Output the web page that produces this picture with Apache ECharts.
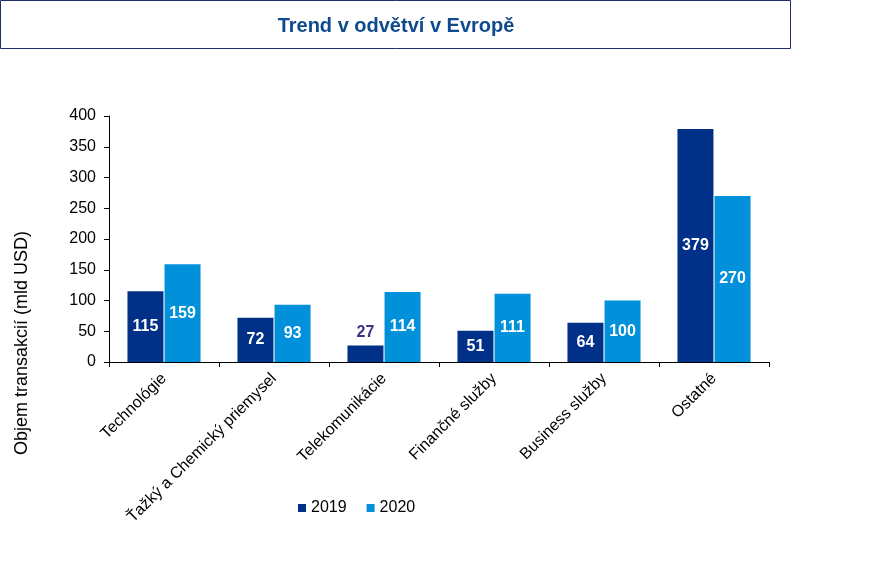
<!DOCTYPE html>
<html><head><meta charset="utf-8">
<script src="https://cdn.jsdelivr.net/npm/echarts@6/dist/echarts.min.js"></script>
<style>html,body{margin:0;padding:0;background:#fff}#c{width:874px;height:577px}</style>
</head><body><div id="c"></div>
<script>
const categories = ['Technológie','Ťažký a Chemický priemysel','Telekomunikácie','Finančné služby','Business služby','Ostatné'];
const values2019 = [115, 72, 27, 51, 64, 379];
const values2020 = [159, 93, 114, 111, 100, 270];
const yTicks = [0, 50, 100, 150, 200, 250, 300, 350, 400];
const titleText = 'Trend v odvětví v Evropě';
const yAxisTitle = 'Objem transakcií (mld USD)';

const FONT = '"Liberation Sans", Arial, sans-serif';
const chart = echarts.init(document.getElementById('c'), null, {renderer:'canvas'});
function mk(vals){
  return vals.map(v => v < 40 ? {value:v, label:{position:'top', color:'#3b3585'}} : v);
}
chart.setOption({
  animation:false,
  textStyle:{fontFamily:FONT},
  graphic:[
    {type:'rect', shape:{x:0.5,y:0.5,width:790,height:48}, style:{fill:'#fff', stroke:'#1b2f6b', lineWidth:1}},
    {type:'text', x:396, y:26, style:{text:titleText, font:'bold 20px '+FONT, fill:'#0e4a8e', textAlign:'center', textVerticalAlign:'middle'}},
    {type:'text', x:22, y:343, rotation:Math.PI/2, style:{text:yAxisTitle, font:'18px '+FONT, fill:'#000', textAlign:'center', textVerticalAlign:'middle'}}
  ],
  legend:{
    left:293, top:495, icon:'rect', itemWidth:8, itemHeight:8, itemGap:20, itemTextGap:4,
    textStyle:{fontSize:16, color:'#000', fontFamily:FONT},
    data:['2019','2020']
  },
  grid:{left:109, right:105, top:116, bottom:215, containLabel:false},
  xAxis:{
    type:'category', data:categories,
    axisLine:{lineStyle:{color:'#000'}},
    axisTick:{show:true, alignWithLabel:false, length:5, lineStyle:{color:'#000'}},
    axisLabel:{rotate:45, fontSize:16, color:'#000', margin:14, interval:0, fontFamily:FONT}
  },
  yAxis:{
    type:'value', min:yTicks[0], max:yTicks[yTicks.length-1], interval:50,
    axisLine:{show:true, lineStyle:{color:'#000'}},
    axisTick:{show:true, length:5, lineStyle:{color:'#000'}},
    splitLine:{show:false},
    axisLabel:{fontSize:16, color:'#000', margin:13, fontFamily:FONT}
  },
  series:[
    {name:'2019', type:'bar', data:mk(values2019), barWidth:36, barGap:'3%',
     itemStyle:{color:'#003087'},
     label:{show:true, position:'inside', color:'#fff', fontWeight:'bold', fontSize:16, fontFamily:FONT}},
    {name:'2020', type:'bar', data:mk(values2020), barWidth:36, barGap:'3%',
     itemStyle:{color:'#0091da'},
     label:{show:true, position:'inside', color:'#fff', fontWeight:'bold', fontSize:16, fontFamily:FONT}}
  ]
});
</script></body></html>
